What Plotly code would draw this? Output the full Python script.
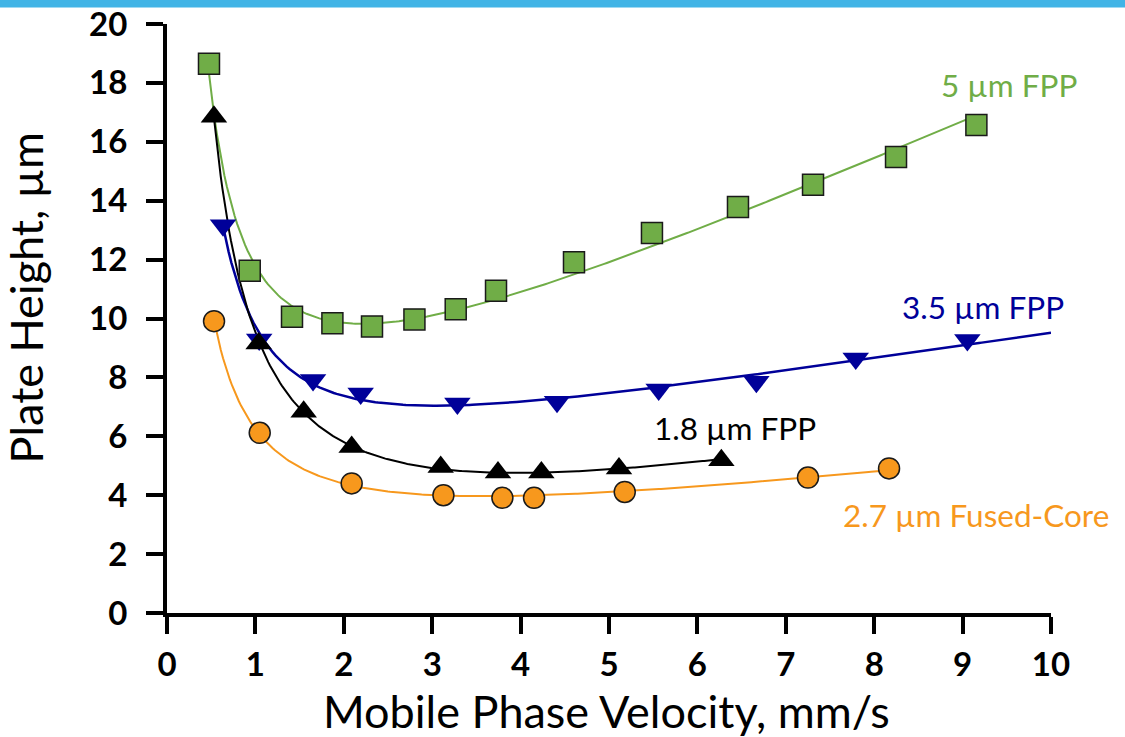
import numpy as np
import plotly.graph_objects as go

# ---------------- data ----------------
u_5um = [0.475, 0.936, 1.414, 1.871, 2.319, 2.799, 3.266, 3.722, 4.604, 5.486, 6.459, 7.308, 8.247, 9.156]
h_5um = [18.65, 11.62, 10.06, 9.84, 9.73, 9.97, 10.31, 10.94, 11.91, 12.90, 13.79, 14.54, 15.48, 16.57]

u_35um = [0.634, 1.043, 1.652, 2.191, 3.285, 4.412, 5.562, 6.667, 7.791, 9.054]
h_35um = [13.17, 9.29, 7.91, 7.45, 7.11, 7.17, 7.59, 7.85, 8.64, 9.27]

u_18um = [0.531, 1.037, 1.546, 2.089, 3.096, 3.744, 4.235, 5.113, 6.271]
h_18um = [16.85, 9.15, 6.83, 5.64, 4.96, 4.77, 4.77, 4.91, 5.19]

u_27fc = [0.532, 1.049, 2.089, 3.127, 3.794, 4.152, 5.178, 7.251, 8.168]
h_27fc = [9.91, 6.12, 4.40, 4.00, 3.91, 3.91, 4.11, 4.60, 4.91]

series_names = ["5 µm FPP", "3.5 µm FPP", "1.8 µm FPP", "2.7 µm Fused-Core"]
x_ticks = [0, 1, 2, 3, 4, 5, 6, 7, 8, 9, 10]
y_ticks = [0, 2, 4, 6, 8, 10, 12, 14, 16, 18, 20]

# ---------------- styles ----------------
GREEN = "#70AD47"
BLUE = "#000099"
BLACK = "#000000"
ORANGE = "#F7981D"
FONT = "Lato"


def plate_height_fit(u, h, u_end=None, knox=False):
    """Least-squares fit of a plate-height curve (van Deemter, or Knox form) to the data."""
    u = np.asarray(u, float)
    h = np.asarray(h, float)
    first = np.cbrt(u) if knox else np.ones_like(u)
    M = np.column_stack([first, 1.0 / u, u])
    coef, *_ = np.linalg.lstsq(M, h, rcond=None)
    end = u.max() if u_end is None else u_end
    ug = np.linspace(u.min(), end, 300)
    f0 = np.cbrt(ug) if knox else np.ones_like(ug)
    return ug, coef[0] * f0 + coef[1] / ug + coef[2] * ug


fig = go.Figure()

specs = [
    (u_5um, h_5um, GREEN, dict(symbol="square", size=21, color=GREEN, line=dict(color="#1a1a1a", width=1.5)), None, 2, False),
    (u_35um, h_35um, BLUE, dict(symbol="triangle-down", size=23, color=BLUE, line=dict(width=0)), x_ticks[-1], 2.5, True),
    (u_27fc, h_27fc, ORANGE, dict(symbol="circle", size=21, color=ORANGE, line=dict(color="#1a1a1a", width=1.5)), None, 2, False),
    (u_18um, h_18um, BLACK, dict(symbol="triangle-up", size=23, color=BLACK, line=dict(width=0)), None, 2, False),
]
names = [series_names[0], series_names[1], series_names[3], series_names[2]]

for (u, h, col, mk, uend, lw, knox), nm in zip(specs, names):
    ug, hg = plate_height_fit(u, h, uend, knox)
    fig.add_trace(go.Scatter(x=ug, y=hg, mode="lines", line=dict(color=col, width=lw),
                             showlegend=False, hoverinfo="skip", name=nm + " fit"))
for (u, h, col, mk, uend, lw, knox), nm in zip(specs, names):
    fig.add_trace(go.Scatter(x=u, y=h, mode="markers", marker=mk, showlegend=False, name=nm))

# series labels
label_pos = [(9.52, 17.93, GREEN), (9.23, 10.40, BLUE), (6.42, 6.28, BLACK), (9.15, 3.32, ORANGE)]
for txt, (lx, ly, col) in zip(series_names, label_pos):
    fig.add_annotation(x=lx, y=ly, xref="x", yref="y", text=txt, showarrow=False,
                       font=dict(family=FONT, size=31.5, color=col), xanchor="center", yanchor="middle")

# axis titles
fig.add_annotation(x=0.497, y=-0.167, xref="paper", yref="paper", text="Mobile Phase Velocity, mm/s",
                   showarrow=False, font=dict(family=FONT, size=45, color="black"),
                   xanchor="center", yanchor="middle")
fig.add_annotation(x=-0.16, y=0.535, xref="paper", yref="paper", text="Plate Height, µm",
                   showarrow=False, textangle=-90, font=dict(family=FONT, size=45, color="black"),
                   xanchor="center", yanchor="middle")

W, H = 1125, 737
L, R, T, B = 167, 74, 24, 124
pw, ph = W - L - R, H - T - B
# thin blue band across the top of the page
fig.add_shape(type="rect", xref="paper", yref="paper",
              x0=-L / pw, x1=(W - L) / pw, y0=(H - B - 7.5) / ph, y1=(H - B + 2) / ph,
              fillcolor="#41B4E6", line=dict(width=0), layer="above")

axis_common = dict(showline=True, linecolor="black", linewidth=4, ticks="outside", ticklen=17,
                   tickwidth=4, tickcolor="black", showgrid=False, zeroline=False, mirror=False,
                   automargin=False,
                   tickfont=dict(family=FONT, size=33, color="black", weight="bold"))
fig.update_xaxes(range=[0, 10], tickvals=x_ticks, ticklabelstandoff=2, **axis_common)
fig.update_yaxes(range=[0, 20], tickvals=y_ticks, ticklabelstandoff=12, **axis_common)

fig.update_layout(width=W, height=H, margin=dict(l=L, r=R, t=T, b=B, pad=0, autoexpand=False),
                  plot_bgcolor="white", paper_bgcolor="white", showlegend=False)

fig.write_html("out.html")
